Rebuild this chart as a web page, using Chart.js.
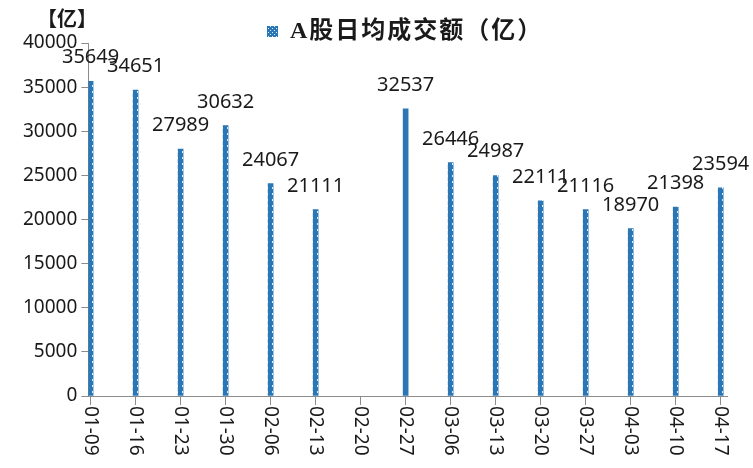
<!DOCTYPE html>
<html>
<head>
<meta charset="utf-8">
<script src="https://cdn.jsdelivr.net/npm/chart.js@4.4.0/dist/chart.umd.min.js"></script>
<style>
  body { margin: 0; background: #fff; }
  #wrap { width: 753px; height: 468px; }
</style>
</head>
<body>
<div id="wrap"><canvas id="chart" width="753" height="468"></canvas></div>
<script>
const dates = ["01-09", "01-16", "01-23", "01-30", "02-06", "02-13", "02-20", "02-27",
               "03-06", "03-13", "03-20", "03-27", "04-03", "04-10", "04-17"];
const turnover = [35649, 34651, 27989, 30632, 24067, 21111, null, 32537,
                  26446, 24987, 22111, 21116, 18970, 21398, 23594];
const yTicks = [0, 5000, 10000, 15000, 20000, 25000, 30000, 35000, 40000];
const seriesName = "A股日均成交额（亿）";
const unitLabel = "【亿】";

const BLUE = "#2b77b6";
const FONT = "'Noto Sans', 'Noto Sans CJK SC', sans-serif";

// blue fill with small white dashes, like the original bars
function makePattern(w, h, dots) {
  const c = document.createElement("canvas");
  c.width = w; c.height = h;
  const g = c.getContext("2d");
  g.fillStyle = BLUE;
  g.fillRect(0, 0, w, h);
  g.fillStyle = "rgba(255,255,255,0.85)";
  dots.forEach(d => g.fillRect(d[0], d[1], d[2], d[3]));
  return g.createPattern(c, "repeat");
}
const barPattern = makePattern(5, 6, [[2, 1, 1, 2]]);
const boxPattern = makePattern(4, 4, [[0, 0, 1, 1], [2, 2, 1, 1]]);

const points = dates.map((d, i) => ({ x: i, y: turnover[i] }));

// value labels, legend, unit text and vertical date labels
const extras = {
  id: "extras",
  afterDatasetsDraw(chart) {
    const { ctx } = chart;
    const meta = chart.getDatasetMeta(0);
    ctx.save();
    ctx.fillStyle = "#1a1a1a";
    ctx.font = "20px " + FONT;
    ctx.textAlign = "center";
    ctx.textBaseline = "alphabetic";
    meta.data.forEach((bar, i) => {
      if (turnover[i] == null) return;
      ctx.fillText(String(turnover[i]), bar.x, bar.y - 18);
    });
    ctx.restore();
  },
  afterDraw(chart) {
    const { ctx, scales } = chart;
    const xs = scales.x;
    ctx.save();
    ctx.fillStyle = "#1a1a1a";
    ctx.font = "bold 20px 'Noto Sans CJK SC', sans-serif";
    ctx.textAlign = "left";
    ctx.textBaseline = "middle";
    ctx.fillText(unitLabel, 37, 18);

    // legend
    ctx.fillStyle = boxPattern;
    ctx.fillRect(267, 26, 11, 11);
    ctx.fillStyle = "#1a1a1a";
    ctx.font = "bold 24px 'Liberation Serif', 'Noto Sans CJK SC', serif";
    ctx.letterSpacing = "2px";
    ctx.fillText(seriesName, 290, 32);
    ctx.letterSpacing = "0px";

    ctx.font = "19px " + FONT;
    ctx.textAlign = "left";
    ctx.textBaseline = "middle";
    dates.forEach((d, i) => {
      const x = xs.getPixelForValue(i);
      ctx.save();
      ctx.translate(x, xs.top + 10);
      ctx.rotate(Math.PI / 2);
      ctx.fillText(d, 0, 0);
      ctx.restore();
    });
    ctx.restore();
  }
};

new Chart(document.getElementById("chart"), {
  type: "bar",
  data: {
    datasets: [{
      label: seriesName,
      data: points,
      backgroundColor: turnover.map((v, i) => i === 7 ? BLUE : barPattern),
      borderWidth: 0,
      barThickness: 5
    }]
  },
  options: {
    responsive: false,
    animation: false,
    layout: { padding: { top: 43, left: 19, right: 26, bottom: 63 } },
    scales: {
      x: {
        type: "linear",
        min: -0.05,
        max: 14.14,
        offset: false,
        afterBuildTicks(axis) {
          axis.ticks = dates.map((d, i) => ({ value: i }));
        },
        ticks: { display: false },
        grid: { offset: false, drawOnChartArea: false, drawTicks: true, tickLength: 9, color: "#8c8c8c" },
        border: { display: true, color: "#8c8c8c" }
      },
      y: {
        min: 0,
        max: 40000,
        afterBuildTicks(axis) {
          axis.ticks = yTicks.map(v => ({ value: v }));
        },
        ticks: {
          color: "#1a1a1a",
          font: { family: FONT, size: 19 },
          padding: 4,
          callback: v => String(v)
        },
        grid: { drawOnChartArea: false, drawTicks: true, tickLength: 7, color: "#8c8c8c" },
        border: { display: true, color: "#8c8c8c" }
      }
    },
    plugins: {
      legend: { display: false },
      tooltip: { enabled: false }
    }
  },
  plugins: [extras]
});
</script>
</body>
</html>
